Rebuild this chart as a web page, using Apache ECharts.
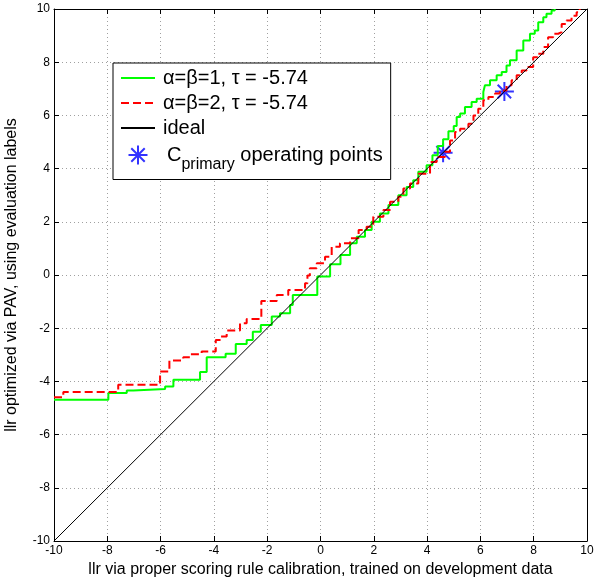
<!DOCTYPE html>
<html>
<head>
<meta charset="utf-8">
<script src="https://cdn.jsdelivr.net/npm/echarts@6/dist/echarts.min.js"></script>
<style>
  html, body { margin: 0; padding: 0; background: #fff; }
  #main { width: 601px; height: 579px; }
</style>
</head>
<body>
<div id="main"></div>
<script>
    // step curves: at x[i] the curve jumps to y[i]
    var greenX = [-10, -7.96, -7.27, -7.02, -5.83, -5.52, -4.52, -4.27, -3.56, -3.18, -2.77, -2.54, -2.24, -1.83, -1.52, -1.14, -1.04, -0.12, 0.36, 0.75, 1.11, 1.36, 1.67, 1.92, 2.23, 2.55, 2.92, 3.23, 3.48, 3.67, 3.98, 4.2, 4.4, 4.6, 4.8, 5.0, 5.11, 5.24, 5.42, 5.67, 5.86, 6.11, 6.17, 6.36, 6.61, 6.8, 6.98, 7.11, 7.36, 7.61, 7.86, 8.04, 8.17, 8.36, 8.48, 8.67, 8.79];
    var greenY = [-4.69, -4.44, -4.34, -4.29, -4.19, -3.94, -3.65, -3.09, -2.96, -2.59, -2.44, -2.13, -1.88, -1.56, -1.44, -1.13, -0.75, -0.06, 0.4, 0.75, 1.19, 1.44, 1.69, 2.0, 2.31, 2.63, 3.0, 3.31, 3.56, 3.88, 4.13, 4.5, 4.85, 5.1, 5.4, 5.6, 5.94, 6.07, 6.32, 6.5, 6.63, 6.88, 7.13, 7.32, 7.51, 7.63, 7.88, 8.07, 8.44, 8.82, 9.07, 9.19, 9.5, 9.69, 9.82, 9.94, 10.0];

    var redX = [-10, -9.65, -7.59, -6.02, -5.67, -5.15, -4.9, -4.46, -3.93, -3.75, -3.52, -3.02, -2.77, -2.22, -1.64, -1.21, -0.58, -0.49, -0.4, -0.14, 0.17, 0.42, 0.73, 1.11, 1.43, 1.73, 1.98, 2.36, 2.61, 2.92, 3.11, 3.36, 3.67, 4.11, 4.36, 4.67, 4.86, 5.05, 5.24, 5.55, 5.74, 5.92, 6.11, 6.3, 6.55, 6.73, 6.98, 7.17, 7.36, 7.55, 7.73, 7.98, 8.17, 8.36, 8.54, 8.73, 8.92, 9.05, 9.23, 9.42, 9.61, 9.73];
    var redY = [-4.6, -4.4, -4.13, -3.63, -3.21, -3.09, -2.98, -2.88, -2.44, -2.31, -2.09, -1.81, -1.65, -0.98, -0.75, -0.56, -0.31, -0.02, 0.25, 0.44, 0.69, 1.06, 1.19, 1.38, 1.69, 1.81, 2.19, 2.44, 2.75, 2.94, 3.25, 3.44, 3.81, 4.25, 4.44, 4.63, 5.06, 5.38, 5.5, 5.69, 6.0, 6.25, 6.57, 6.69, 6.82, 6.94, 7.13, 7.32, 7.51, 7.69, 7.82, 8.19, 8.32, 8.57, 8.94, 9.07, 9.13, 9.44, 9.57, 9.75, 9.88, 10.0];

    var idealX = [-10, 10];
    var idealY = [-10, 10];

    // C_primary operating points
    var opX = [4.6, 6.9];
    var opY = [4.6, 6.9];

    var ticks = [-10, -8, -6, -4, -2, 0, 2, 4, 6, 8, 10];

    var FONT = 'Liberation Sans, Arial, sans-serif';
    var STAR = 'path://M0,-10L0,10M-10,0L10,0M-7.07,-7.07L7.07,7.07M-7.07,7.07L7.07,-7.07';

    function pairs(xs, ys){
        var out = [];
        for (var i = 0; i < xs.length; i++) out.push([xs[i], ys[i]]);
        return out;
    }

    function mainAxis(name, gap){
        return {
            type: 'value',
            min: ticks[0],
            max: ticks[ticks.length - 1],
            interval: 2,
            name: name,
            nameLocation: 'middle',
            nameGap: gap,
            nameTextStyle: {color: '#000', fontSize: 16, fontFamily: FONT},
            axisLine: {show: true, onZero: false, lineStyle: {color: '#000', width: 1}},
            axisTick: {show: true, inside: true, length: 5, lineStyle: {color: '#000'}},
            axisLabel: {color: '#000', fontSize: 12, fontFamily: FONT, margin: 4},
            splitLine: {show: true, lineStyle: {color: '#a0a0a0', type: [1, 3], width: 1}}
        };
    }

    function mirrorAxis(pos){
        return {
            type: 'value',
            position: pos,
            min: ticks[0],
            max: ticks[ticks.length - 1],
            interval: 2,
            axisLine: {show: true, onZero: false, lineStyle: {color: '#000', width: 1}},
            axisTick: {show: true, inside: true, length: 5, lineStyle: {color: '#000'}},
            axisLabel: {show: false},
            splitLine: {show: false}
        };
    }

    var noDot = {opacity: 0};

    var myChart = echarts.init(document.getElementById('main'));
    var option = {
        backgroundColor: '#fff',
        animation: false,
        grid: {left: 54, top: 9, width: 533, height: 532, containLabel: false, outerBoundsMode: 'none'},
        xAxis: [
            mainAxis('llr via proper scoring rule calibration, trained on development data', 19),
            mirrorAxis('top')
        ],
        yAxis: [
            mainAxis('llr optimized via PAV, using evaluation labels', 34),
            mirrorAxis('right')
        ],
        legend: {
            orient: 'vertical',
            left: 113,
            top: 63,
            backgroundColor: '#fff',
            borderColor: '#000',
            borderWidth: 1,
            padding: [5, 8, 7, 7],
            itemGap: 5,
            itemWidth: 34,
            itemHeight: 19,
            textStyle: {
                color: '#000',
                fontSize: 20,
                fontFamily: FONT,
                padding: [0, 0, 0, 3],
                rich: {
                    c: {fontSize: 20, fontFamily: FONT, color: '#000', padding: [0, 0, 0, 4]},
                    sub: {fontSize: 16, fontFamily: FONT, color: '#000', padding: [19, 0, 0, 0]},
                    t: {fontSize: 20, fontFamily: FONT, color: '#000'}
                }
            },
            formatter: function(name){
                if (name === 'Cprimary operating points') {
                    return '{c|C}{sub|primary}{t| operating points}';
                }
                return name;
            },
            data: [
                {name: 'α=β=1, τ = -5.74', itemStyle: noDot},
                {name: 'α=β=2, τ = -5.74', itemStyle: noDot},
                {name: 'ideal', itemStyle: noDot},
                {name: 'Cprimary operating points'}
            ]
        },
        series: [
            {
                name: 'α=β=1, τ = -5.74',
                type: 'line',
                step: 'end',
                showSymbol: false,
                symbol: 'none',
                lineStyle: {color: '#00ff00', width: 2},
                itemStyle: {color: '#00ff00'},
                data: pairs(greenX, greenY)
            },
            {
                name: 'α=β=2, τ = -5.74',
                type: 'line',
                step: 'end',
                showSymbol: false,
                symbol: 'none',
                lineStyle: {color: '#ff0000', width: 2, type: [8, 4]},
                itemStyle: {color: '#ff0000'},
                data: pairs(redX, redY)
            },
            {
                name: 'ideal',
                type: 'line',
                showSymbol: false,
                symbol: 'none',
                lineStyle: {color: '#000', width: 1},
                itemStyle: {color: '#000'},
                data: pairs(idealX, idealY)
            },
            {
                name: 'Cprimary operating points',
                type: 'scatter',
                symbol: STAR,
                symbolSize: 19,
                itemStyle: {color: 'none', borderColor: '#0000ff', borderWidth: 2},
                data: pairs(opX, opY)
            }
        ]
    };
    myChart.setOption(option);
</script>
</body>
</html>
